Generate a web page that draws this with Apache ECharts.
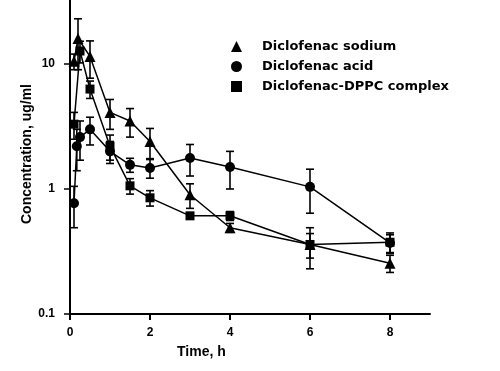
<!DOCTYPE html>
<html>
<head>
<meta charset="utf-8">
<script src="https://cdn.jsdelivr.net/npm/echarts@6/dist/echarts.min.js"></script>
<style>html,body{margin:0;padding:0;background:#fff}#c{width:500px;height:371px}</style>
</head>
<body>
<div id="c"></div>
<script>
const sodiumTimes = [0.1, 0.2, 0.5, 1, 1.5, 2, 3, 4, 6, 8];
const sodiumMean  = [10.5, 16, 11.5, 4.1, 3.5, 2.4, 0.9, 0.49, 0.36, 0.255];
const sodiumErr   = [1.5, 7, 3.8, 1.1, 0.9, 0.65, 0.2, 0.04, 0.08, 0.04];

const acidTimes = [0.1, 0.17, 0.25, 0.5, 1, 1.5, 2, 3, 4, 6, 8];
const acidMean  = [0.77, 2.2, 2.6, 3.0, 2.0, 1.56, 1.47, 1.77, 1.5, 1.04, 0.37];
const acidErr   = [0.28, 0.8, 0.9, 0.75, 0.4, 0.2, 0.25, 0.5, 0.5, 0.4, 0.06];

const dppcTimes = [0.1, 0.25, 0.5, 1, 1.5, 2, 3, 4, 6, 8];
const dppcMean  = [3.3, 12.7, 6.3, 2.2, 1.06, 0.85, 0.61, 0.61, 0.36, 0.375];
const dppcErr   = [0.8, 2.5, 1.0, 0.5, 0.15, 0.12, 0.03, 0.05, 0.13, 0.07];

const seriesNames = ['Diclofenac sodium', 'Diclofenac acid', 'Diclofenac-DPPC complex'];
const xTicks = [0, 2, 4, 6, 8];
const yTicks = [0.1, 1, 10];

const FONT = '"Liberation Sans", Arial, sans-serif';
const WIDE = '"DejaVu Sans", sans-serif';

function pts(t, m) { return t.map((x, i) => [x, m[i]]); }
function errs(t, m, e) { return t.map((x, i) => [x, Math.max(m[i] - e[i], 0.05), m[i] + e[i]]); }

function errSeries(name, data) {
  return {
    type: 'custom', name: name, data: data, z: 1, silent: true,
    encode: { x: 0, y: [1, 2] },
    renderItem: function (params, api) {
      const x = api.value(0);
      const lo = api.coord([x, api.value(1)]);
      const hi = api.coord([x, api.value(2)]);
      const w = 4;
      const st = { stroke: '#000', lineWidth: 1.6 };
      return { type: 'group', children: [
        { type: 'line', shape: { x1: lo[0], y1: lo[1], x2: hi[0], y2: hi[1] }, style: st },
        { type: 'line', shape: { x1: lo[0] - w, y1: lo[1], x2: lo[0] + w, y2: lo[1] }, style: st },
        { type: 'line', shape: { x1: hi[0] - w, y1: hi[1], x2: hi[0] + w, y2: hi[1] }, style: st }
      ]};
    }
  };
}

function lineSeries(name, data, symbol, size) {
  return {
    type: 'line', name: name, data: data, symbol: symbol, symbolSize: size,
    z: 3, animation: false,
    lineStyle: { color: '#000', width: 1.5 },
    itemStyle: { color: '#000' }
  };
}

const chart = echarts.init(document.getElementById('c'), null, { renderer: 'canvas' });
chart.setOption({
  animation: false,
  backgroundColor: '#fff',
  grid: { left: 70, right: 70, top: 0, bottom: 57 },
  xAxis: {
    type: 'value', min: 0, max: 9,
    axisLine: { lineStyle: { color: '#000', width: 2 } },
    axisTick: { show: true, length: 6, lineStyle: { color: '#000', width: 2 }, customValues: xTicks },
    axisLabel: { color: '#000', fontFamily: FONT, fontWeight: 'bold', fontSize: 12, margin: 13, customValues: xTicks },
    splitLine: { show: false }
  },
  yAxis: {
    type: 'log', logBase: 10, min: 0.1, max: 32.5,
    axisLine: { show: true, lineStyle: { color: '#000', width: 2 } },
    axisTick: { show: true, length: 6, lineStyle: { color: '#000', width: 1.5 }, customValues: yTicks },
    axisLabel: { color: '#000', fontFamily: FONT, fontWeight: 'bold', fontSize: 12, margin: 15, customValues: yTicks,
      formatter: v => String(v) },
    splitLine: { show: false }
  },
  legend: {
    orient: 'vertical', left: 226, top: 35, itemWidth: 11, itemHeight: 11, itemGap: 7,
    data: [
      { name: seriesNames[0], icon: 'triangle' },
      { name: seriesNames[1], icon: 'circle' },
      { name: seriesNames[2], icon: 'rect' }
    ],
    textStyle: { color: '#000', fontFamily: WIDE, fontWeight: 'bold', fontSize: 13, padding: [0, 0, 0, 15] },
    itemStyle: { color: '#000' }
  },
  graphic: [
    { type: 'text', left: 177, top: 345, style: { text: 'Time, h', font: 'bold 14px ' + FONT, fill: '#000' } },
    { type: 'text', x: 27, y: 154, rotation: Math.PI / 2,
      style: { text: 'Concentration, ug/ml', font: 'bold 14px ' + FONT, fill: '#000', align: 'center', verticalAlign: 'middle' } }
  ],
  series: [
    errSeries('err-sodium', errs(sodiumTimes, sodiumMean, sodiumErr)),
    errSeries('err-acid', errs(acidTimes, acidMean, acidErr)),
    errSeries('err-dppc', errs(dppcTimes, dppcMean, dppcErr)),
    lineSeries(seriesNames[0], pts(sodiumTimes, sodiumMean), 'triangle', 11),
    lineSeries(seriesNames[1], pts(acidTimes, acidMean), 'circle', 10),
    lineSeries(seriesNames[2], pts(dppcTimes, dppcMean), 'rect', 9)
  ]
});
</script>
</body>
</html>
